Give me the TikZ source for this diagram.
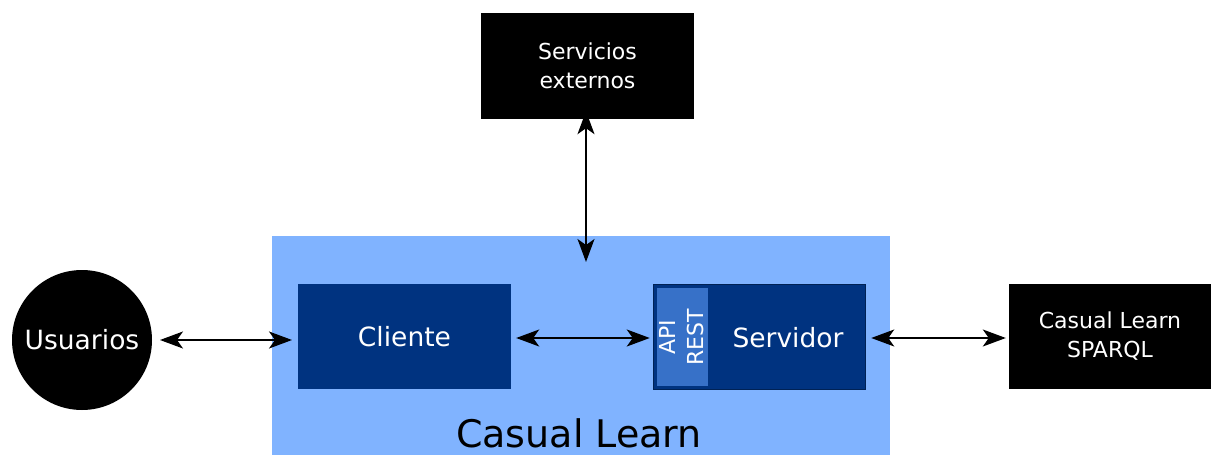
\documentclass[tikz,border=0pt]{standalone}
\usepackage{fontspec}
\setmainfont{DejaVu Sans}
\usetikzlibrary{arrows.meta}
\definecolor{lightb}{HTML}{80B3FF}
\definecolor{darkb}{HTML}{003380}
\definecolor{apib}{HTML}{3771C8}
\definecolor{borderb}{HTML}{002255}
\begin{document}
\begin{tikzpicture}[x=1pt,y=-1pt,
  blk/.style={fill=black,text=white,draw=none,align=center,font=\fontsize{22}{29}\selectfont},
  dbox/.style={fill=darkb,text=white,align=center,font=\fontsize{26.5}{30}\selectfont},
  tip/.tip={Stealth[length=23pt,width=17pt,inset=6pt]},
  conn/.style={tip-tip,line width=1.5pt}]
\useasboundingbox (0,0) rectangle (1211,455);
\fill[lightb] (272,236) rectangle (890,455);
\node[font=\fontsize{38}{42}\selectfont,text=black] (cl) at (579,433) {Casual Learn};
\node[blk,minimum width=213pt,minimum height=106pt] (ext) at (587.5,66) {Servicios\\externos};
\node[circle,fill=black,text=white,minimum size=140pt,inner sep=0pt,font=\fontsize{26.5}{30}\selectfont] (usr) at (82,340) {Usuarios};
\node[dbox,minimum width=213pt,minimum height=105pt] (cli) at (404.5,336.5) {Cliente};
\node[fill=darkb,draw=borderb,line width=1.5pt,minimum width=212pt,minimum height=105pt] (srv) at (759.5,337) {};
\node[fill=apib,minimum width=51pt,minimum height=98pt,inner sep=0pt] (api) at (682.5,337) {};
\node[rotate=90,text=white,align=center,font=\fontsize{22}{28}\selectfont] (apit) at (681.5,337) {API\\REST};
\node[text=white,font=\fontsize{26.5}{30}\selectfont] (srvt) at (788,338) {Servidor};
\node[blk,minimum width=202pt,minimum height=105pt] (sp) at (1110,336.5) {Casual Learn\\SPARQL};
\coordinate (top) at (586,262);
\coordinate (u1) at (160,340);
\coordinate (c1) at (292,340);
\draw[conn] (u1) -- (c1);
\draw[conn] ([xshift=5pt]cli.east |- 0,338) -- ([xshift=-3pt]srv.west |- 0,338);
\draw[conn] ([xshift=5pt]srv.east |- 0,338) -- ([xshift=-3pt]sp.west |- 0,338);
\draw[conn] ([yshift=8pt]ext.south -| top) -- (top);
\end{tikzpicture}
\end{document}
